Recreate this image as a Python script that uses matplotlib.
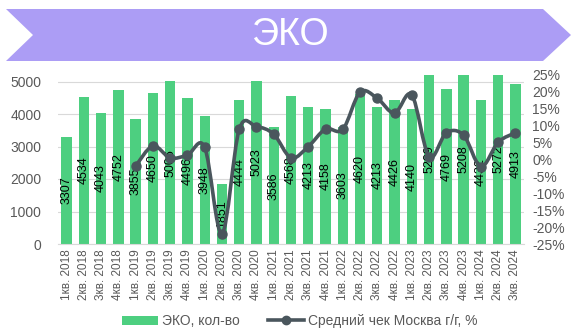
import numpy as np
import matplotlib
matplotlib.use("Agg")
import matplotlib.pyplot as plt
from matplotlib.path import Path
from matplotlib.patches import PathPatch, Polygon, Patch
from matplotlib.lines import Line2D

plt.rcParams['font.family'] = ['Liberation Sans', 'DejaVu Sans']

quarters = ["1кв. 2018", "2кв. 2018", "3кв. 2018", "4кв. 2018",
            "1кв. 2019", "2кв. 2019", "3кв. 2019", "4кв. 2019",
            "1кв. 2020", "2кв. 2020", "3кв. 2020", "4кв. 2020",
            "1кв. 2021", "2кв. 2021", "3кв. 2021", "4кв. 2021",
            "1кв. 2022", "2кв. 2022", "3кв. 2022", "4кв. 2022",
            "1кв. 2023", "2кв. 2023", "3кв. 2023", "4кв. 2023",
            "1кв. 2024", "2кв. 2024", "3кв. 2024"]
eko_count = [3307, 4534, 4043, 4752,
             3855, 4650, 5006, 4496,
             3948, 1851, 4444, 5023,
             3586, 4568, 4213, 4158,
             3603, 4620, 4213, 4426,
             4140, 5209, 4769, 5208,
             4432, 5272, 4913]
# средний чек, г/г %, начиная с 1кв. 2019
check_idx = list(range(4, 27))
check_yoy = [-1.9, 4.0, 0.5, 1.3,
             3.6, -22.0, 8.9, 9.7,
             7.5, 0.5, 3.8, 9.0,
             8.9, 19.9, 18.1, 13.7,
             19.1, 0.8, 7.9, 7.2,
             -2.1, 5.1, 7.9]

green = "#4DCF80"
purple = "#AC9DF5"
dark = "#4A565D"
gray = "#595959"

W, H = 580, 335
fig = plt.figure(figsize=(W / 100, H / 100), dpi=100)

# заголовок-шеврон
banner = [(6, 9), (543, 9), (571, 35), (543, 61), (6, 61), (33, 35)]
fig.patches.append(Polygon([(x / W, 1 - y / H) for x, y in banner],
                           closed=True, transform=fig.transFigure,
                           facecolor=purple, edgecolor="none"))
fig.text(290 / W, 1 - 35 / H, "ЭКО", color="white", fontsize=27,
         ha="center", va="center")

ax = fig.add_axes([58 / W, 1 - 244 / H, 466 / W, 169 / H])
ax2 = ax.twinx()

x = np.arange(len(quarters))
top = 5200
ax.bar(x, eko_count, width=0.6, color=green, zorder=2)
for xi, v in zip(x, eko_count):
    ax.text(xi, min(v, top) / 2, str(v), rotation=90, ha="center",
            va="center", fontsize=9, color="black", zorder=3)

ax.set_xlim(-0.5, len(quarters) - 0.5)
ax.set_ylim(0, top)
ax.set_yticks(range(0, 5001, 1000))
ax.set_xticks(x)
ax.set_xticklabels(quarters, rotation=90, fontsize=8.5, color=gray)
ax.tick_params(axis="y", labelsize=10, labelcolor=gray, length=0, pad=12)
ax.tick_params(axis="x", length=0, pad=4)
ax.grid(axis="y", color="#D9D9D9", linewidth=0.8, zorder=0)
ax.set_axisbelow(True)
for s in list(ax.spines.values()) + list(ax2.spines.values()):
    s.set_visible(False)
ax.spines["bottom"].set_visible(True)
ax.spines["bottom"].set_color("#D9D9D9")

# сглаженная линия (кривые Безье через точки)
px = np.array(check_idx, dtype=float)
py = np.array(check_yoy, dtype=float)
verts = [(px[0], py[0])]
codes = [Path.MOVETO]
n = len(px)
for i in range(n - 1):
    p0 = np.array([px[max(i - 1, 0)], py[max(i - 1, 0)]])
    p1 = np.array([px[i], py[i]])
    p2 = np.array([px[i + 1], py[i + 1]])
    p3 = np.array([px[min(i + 2, n - 1)], py[min(i + 2, n - 1)]])
    c1 = p1 + (p2 - p0) / 6
    c2 = p2 - (p3 - p1) / 6
    verts += [tuple(c1), tuple(c2), tuple(p2)]
    codes += [Path.CURVE4] * 3
ax2.add_patch(PathPatch(Path(verts, codes), facecolor="none",
                        edgecolor=dark, linewidth=2.6, zorder=4,
                        capstyle="round", joinstyle="round"))
ax2.plot(px, py, linestyle="none", marker="o", markersize=6.5,
         color=dark, zorder=5)

ax2.set_ylim(-25, 25)
ax2.set_yticks(range(-25, 26, 5))
ax2.set_yticklabels([f"{t}%" for t in range(-25, 26, 5)])
ax2.tick_params(axis="y", labelsize=10, labelcolor=gray, length=0, pad=6)

handles = [Patch(facecolor=green, edgecolor="none"),
           Line2D([0], [0], color=dark, linewidth=2.6, marker="o",
                  markersize=6)]
fig.legend(handles, ["ЭКО, кол-во", "Средний чек Москва г/г, %"],
           loc="center", bbox_to_anchor=(300 / W, 1 - 321 / H), ncol=2,
           frameon=False, fontsize=10, labelcolor=gray,
           handlelength=2.6, handleheight=0.6, columnspacing=2.0,
           handletextpad=0.3)

fig.savefig("out.png", dpi=100)
